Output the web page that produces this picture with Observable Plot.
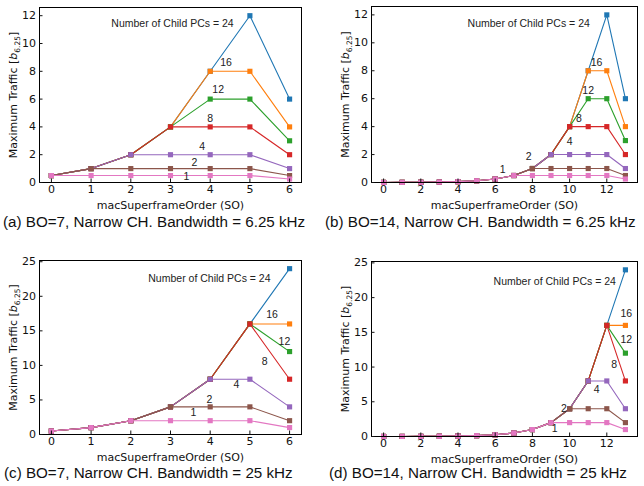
<!DOCTYPE html>
<html><head><meta charset="utf-8">
<script src="https://cdn.jsdelivr.net/npm/d3@7"></script>
<script src="https://cdn.jsdelivr.net/npm/@observablehq/plot@0.6"></script>
<style>
body{margin:0;background:#fff;}
#fig{position:relative;width:644px;height:486px;overflow:hidden;background:#fff;}
.panel{position:absolute;}
.cap{position:absolute;font-family:"Liberation Sans",Arial,sans-serif;font-size:15.2px;white-space:nowrap;color:#111;line-height:17px;}
</style></head><body><div id="fig"></div>
<script>
// ---- data ----
const childPCs = [24, 16, 12, 8, 4, 2, 1];
const colors = ["#1f77b4", "#ff7f0e", "#2ca02c", "#d62728", "#9467bd", "#8c564b", "#e377c2"];
const soShort = [0, 1, 2, 3, 4, 5, 6];
const soLong = [0, 1, 2, 3, 4, 5, 6, 7, 8, 9, 10, 11, 12, 13];
const ticksShort = [0, 1, 2, 3, 4, 5, 6];
const ticksLong = [0, 2, 4, 6, 8, 10, 12];
const yTicks625 = [0, 2, 4, 6, 8, 10, 12];
const yTicks25 = [0, 5, 10, 15, 20, 25];

// (a) BO=7, 6.25 kHz  (rows follow childPCs)
const trafficA = [
  [0.5, 1, 2, 4, 8, 12, 6],
  [0.5, 1, 2, 4, 8, 8, 4],
  [0.5, 1, 2, 4, 6, 6, 3],
  [0.5, 1, 2, 4, 4, 4, 2],
  [0.5, 1, 2, 2, 2, 2, 1],
  [0.5, 1, 1, 1, 1, 1, 0.5],
  [0.5, 0.5, 0.5, 0.5, 0.5, 0.5, 0.25]
];
// (b) BO=14, 6.25 kHz
const trafficB = [
  [0.004, 0.008, 0.016, 0.031, 0.063, 0.125, 0.25, 0.5, 1, 2, 4, 8, 12, 6],
  [0.004, 0.008, 0.016, 0.031, 0.063, 0.125, 0.25, 0.5, 1, 2, 4, 8, 8, 4],
  [0.004, 0.008, 0.016, 0.031, 0.063, 0.125, 0.25, 0.5, 1, 2, 4, 6, 6, 3],
  [0.004, 0.008, 0.016, 0.031, 0.063, 0.125, 0.25, 0.5, 1, 2, 4, 4, 4, 2],
  [0.004, 0.008, 0.016, 0.031, 0.063, 0.125, 0.25, 0.5, 1, 2, 2, 2, 2, 1],
  [0.004, 0.008, 0.016, 0.031, 0.063, 0.125, 0.25, 0.5, 1, 1, 1, 1, 1, 0.5],
  [0.004, 0.008, 0.016, 0.031, 0.063, 0.125, 0.25, 0.5, 0.5, 0.5, 0.5, 0.5, 0.5, 0.25]
];
// (c) BO=7, 25 kHz
const trafficC = [
  [0.5, 1, 2, 4, 8, 16, 24],
  [0.5, 1, 2, 4, 8, 16, 16],
  [0.5, 1, 2, 4, 8, 16, 12],
  [0.5, 1, 2, 4, 8, 16, 8],
  [0.5, 1, 2, 4, 8, 8, 4],
  [0.5, 1, 2, 4, 4, 4, 2],
  [0.5, 1, 2, 2, 2, 2, 1]
];
// (d) BO=14, 25 kHz
const trafficD = [
  [0.004, 0.008, 0.016, 0.031, 0.063, 0.125, 0.25, 0.5, 1, 2, 4, 8, 16, 24],
  [0.004, 0.008, 0.016, 0.031, 0.063, 0.125, 0.25, 0.5, 1, 2, 4, 8, 16, 16],
  [0.004, 0.008, 0.016, 0.031, 0.063, 0.125, 0.25, 0.5, 1, 2, 4, 8, 16, 12],
  [0.004, 0.008, 0.016, 0.031, 0.063, 0.125, 0.25, 0.5, 1, 2, 4, 8, 16, 8],
  [0.004, 0.008, 0.016, 0.031, 0.063, 0.125, 0.25, 0.5, 1, 2, 4, 8, 8, 4],
  [0.004, 0.008, 0.016, 0.031, 0.063, 0.125, 0.25, 0.5, 1, 2, 4, 4, 4, 2],
  [0.004, 0.008, 0.016, 0.031, 0.063, 0.125, 0.25, 0.5, 1, 2, 2, 2, 2, 1]
];

// curve annotations (data coordinates)
const annoText = ["Number of Child PCs = 24", "16", "12", "8", "4", "2", "1"];
const annoXA = [3.05, 4.4, 4.2, 4.0, 3.8, 3.6, 3.4];
const annoYA = [11.4, 8.65, 6.65, 4.6, 2.55, 1.45, 0.42];
const annoXB = [7.8, 11.45, 11.0, 10.5, 10.0, 7.8, 6.4];
const annoYB = [11.35, 8.6, 6.6, 4.6, 2.9, 1.87, 0.9];
const annoXC = [3.98, 5.56, 5.87, 5.37, 4.66, 3.98, 3.58];
const annoYC = [22.6, 17.3, 13.5, 10.5, 7.2, 5.0, 3.2];
const annoXD = [9.2, 13.05, 13.05, 12.4, 11.45, 9.7, 9.2];
const annoYD = [22.3, 17.7, 13.9, 10.3, 6.75, 4.0, 1.15];

const captions = [
  "(a) BO=7, Narrow CH. Bandwidth = 6.25 kHz",
  "(b) BO=14, Narrow CH. Bandwidth = 6.25 kHz",
  "(c) BO=7, Narrow CH. Bandwidth = 25 kHz",
  "(d) BO=14, Narrow CH. Bandwidth = 25 kHz"
];

// ---- drawing ----
const fig = document.getElementById("fig");

function makePanel(cfg) {
  const {so, rows, xTicks, yTicks, yMax, annoX, annoY, left, top, height, ml, mr, mt, mb, caption, capLeft, capTop} = cfg;
  const pad = (so[so.length - 1] - so[0]) * 0.05;
  const series = rows.map((row, i) => row.map((v, j) => ({so: so[j], traffic: v, n: childPCs[i]})));
  const seriesMarks = series.flatMap(s => [
    Plot.line(s, {x: "so", y: "traffic", stroke: "n", strokeWidth: 1.1}),
    Plot.dot(s, {x: "so", y: "traffic", fill: "n", symbol: "square", r: 2.9})
  ]);
  const anno = annoText.map((t, i) => ({t, x: annoX[i], y: annoY[i]}));
  const svg = Plot.plot({
    width: 322, height,
    marginLeft: ml, marginRight: mr, marginTop: mt, marginBottom: mb,
    style: {fontFamily: "'DejaVu Sans', sans-serif", fontSize: "11px", color: "#111", background: "transparent", overflow: "visible"},
    x: {domain: [so[0] - pad, so[so.length - 1] + pad]},
    y: {domain: [0, yMax]},
    color: {type: "ordinal", domain: childPCs, range: colors},
    marks: [
      ...seriesMarks,
      Plot.text(anno, {x: "x", y: "y", text: "t", fontFamily: "'Liberation Sans', Arial, sans-serif", fontSize: 10.5, fill: "#222"}),
      Plot.frame({stroke: "#000", strokeWidth: 1}),
      Plot.axisX({ticks: xTicks, tickSize: -3.5, tickPadding: 6, tickFormat: d => String(d), label: "macSuperframeOrder (SO)", labelAnchor: "center", labelArrow: "none", labelOffset: 26}),
      Plot.axisY({ticks: yTicks, tickSize: -3.5, tickPadding: 7, tickFormat: d => String(d), label: "Maximum Traffic [b6.25]", labelAnchor: "center", labelArrow: "none", labelOffset: 30})
    ]
  });
  // rich y label: italic b with subscript
  const lab = d3.select(svg).select('g[aria-label="y-axis label"] text');
  if (!lab.empty()) {
    lab.text(null);
    lab.append("tspan").text("Maximum Traffic [");
    lab.append("tspan").attr("font-style", "italic").text("b");
    lab.append("tspan").attr("font-size", "7.5px").attr("dy", "2.5").text("6.25");
    lab.append("tspan").attr("dy", "-2.5").text("]");
  }
  const div = document.createElement("div");
  div.className = "panel";
  div.style.left = left + "px";
  div.style.top = top + "px";
  div.appendChild(svg);
  fig.appendChild(div);
  const cap = document.createElement("div");
  cap.className = "cap";
  cap.style.left = capLeft + "px";
  cap.style.top = capTop + "px";
  cap.textContent = caption;
  fig.appendChild(cap);
}

makePanel({so: soShort, rows: trafficA, xTicks: ticksShort, yTicks: yTicks625, yMax: 12.59, annoX: annoXA, annoY: annoYA,
  left: 0, top: 0, height: 210, ml: 39, mr: 21, mt: 7, mb: 28, caption: captions[0], capLeft: 3, capTop: 213});
makePanel({so: soLong, rows: trafficB, xTicks: ticksLong, yTicks: yTicks625, yMax: 12.6, annoX: annoXB, annoY: annoYB,
  left: 322, top: 0, height: 210, ml: 49, mr: 7, mt: 6, mb: 28, caption: captions[1], capLeft: 325, capTop: 213});
makePanel({so: soShort, rows: trafficC, xTicks: ticksShort, yTicks: yTicks25, yMax: 25.18, annoX: annoXC, annoY: annoYC,
  left: 0, top: 243, height: 219, ml: 39, mr: 21, mt: 17, mb: 28, caption: captions[2], capLeft: 4, capTop: 464});
makePanel({so: soLong, rows: trafficD, xTicks: ticksLong, yTicks: yTicks25, yMax: 25.2, annoX: annoXD, annoY: annoYD,
  left: 322, top: 243, height: 221, ml: 49, mr: 7, mt: 18, mb: 28, caption: captions[3], capLeft: 329, capTop: 464});
</script>
</body></html>
